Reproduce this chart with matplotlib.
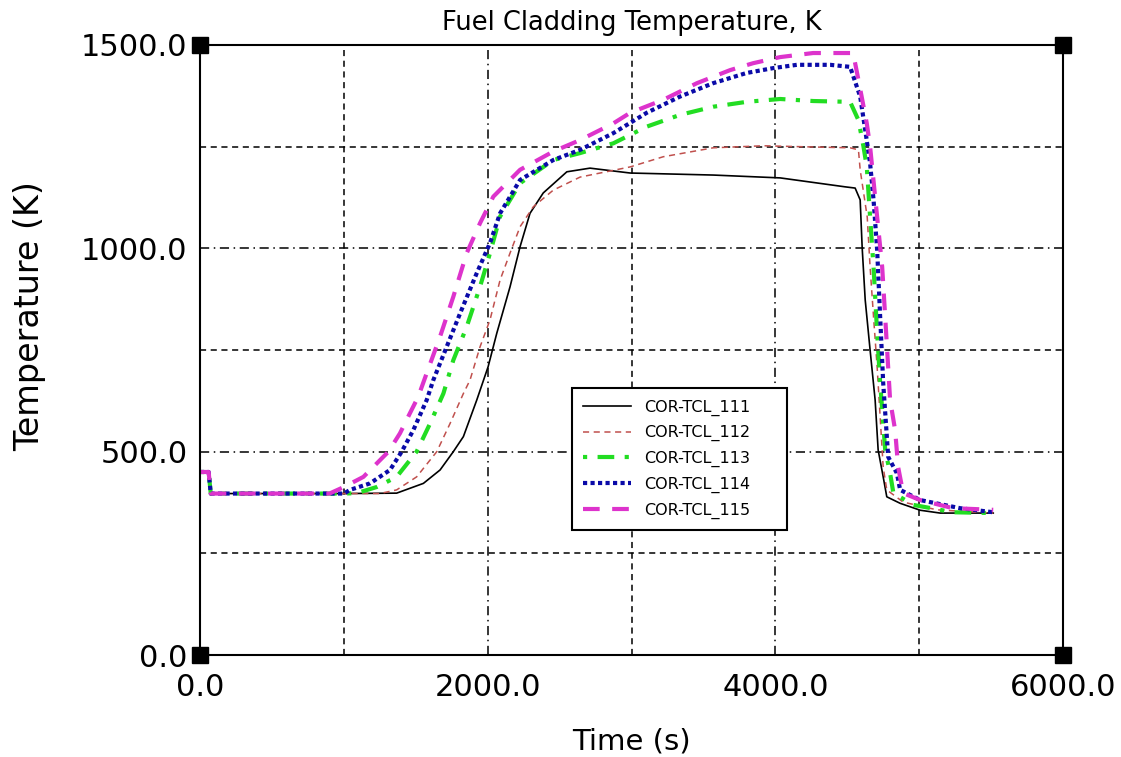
import matplotlib
matplotlib.use("Agg")
import matplotlib.pyplot as plt
from matplotlib.ticker import MultipleLocator, FormatStrFormatter

# COR-TCL_111
t_111 = [0, 60, 75, 1000, 1367, 1553, 1669, 1761, 1831, 1924, 2003, 2063, 2155, 2225, 2294,
         2386, 2550, 2711, 2990, 3568, 4033, 4485, 4554, 4589, 4603, 4624, 4658, 4693, 4714,
         4749, 4774, 4867, 5006, 5145, 5514]
T_111 = [450, 450, 397, 397, 398, 422, 455, 500, 537, 627, 709, 791, 905, 1004, 1086,
         1136, 1188, 1197, 1185, 1180, 1173, 1151, 1148, 1119, 1001, 873, 750, 627, 504,
         438, 389, 373, 356, 349, 349]

# COR-TCL_112
t_112 = [0, 60, 75, 1250, 1367, 1506, 1646, 1738, 1831, 1877, 1947, 2016, 2086, 2155, 2225,
         2317, 2456, 2642, 2990, 3220, 3568, 3915, 4262, 4519, 4577, 4589, 4638, 4658, 4682,
         4707, 4728, 4749, 4774, 4888, 5122, 5514]
T_112 = [450, 450, 397, 397, 406, 438, 500, 569, 643, 676, 758, 824, 922, 988, 1053,
         1102, 1143, 1175, 1200, 1225, 1247, 1252, 1249, 1247, 1242, 1193, 1077, 954, 831,
         708, 585, 462, 406, 376, 357, 349]

# COR-TCL_113
t_113 = [0, 60, 75, 1000, 1089, 1228, 1367, 1506, 1599, 1692, 1761, 1854, 1947, 2016, 2086,
         2225, 2456, 2642, 2873, 3105, 3337, 3568, 3800, 4033, 4262, 4519, 4577, 4612, 4635,
         4658, 4682, 4707, 4728, 4763, 4797, 4820, 4960, 5235, 5514]
T_113 = [450, 450, 397, 397, 398, 413, 438, 500, 569, 643, 725, 807, 906, 988, 1078,
         1160, 1217, 1234, 1258, 1299, 1328, 1348, 1360, 1367, 1362, 1360, 1315, 1250, 1200,
         1077, 954, 792, 669, 504, 447, 398, 369, 351, 349]

# COR-TCL_114
t_114 = [0, 60, 75, 1000, 1043, 1182, 1321, 1402, 1483, 1576, 1622, 1715, 1808, 1924, 2016,
         2086, 2225, 2456, 2642, 2873, 3105, 3337, 3568, 3800, 3986, 4149, 4380, 4519, 4589,
         4624, 4658, 4682, 4707, 4728, 4749, 4784, 4844, 4867, 5006, 5284, 5514]
T_114 = [450, 450, 397, 397, 406, 422, 455, 500, 553, 627, 676, 758, 840, 939, 1013,
         1086, 1168, 1217, 1242, 1283, 1333, 1373, 1406, 1431, 1443, 1451, 1451, 1446, 1373,
         1291, 1209, 1119, 996, 831, 669, 487, 447, 406, 381, 361, 351]

# COR-TCL_115
t_115 = [0, 60, 75, 900, 1000, 1136, 1310, 1390, 1460, 1517, 1576, 1669, 1761, 1854, 1947,
         2039, 2225, 2456, 2642, 2873, 2990, 3220, 3455, 3685, 3845, 4033, 4262, 4540, 4577,
         4635, 4658, 4707, 4742, 4763, 4797, 4832, 4853, 4888, 5006, 5235, 5514]
T_115 = [450, 450, 397, 397, 413, 438, 500, 545, 595, 635, 693, 783, 881, 988, 1062,
         1127, 1193, 1238, 1266, 1307, 1333, 1365, 1406, 1438, 1455, 1470, 1480, 1480, 1414,
         1307, 1250, 1077, 954, 831, 627, 553, 462, 398, 381, 361, 357]

series = [
    ("COR-TCL_111", t_111, T_111, dict(color="black", lw=1.2, ls="-")),
    ("COR-TCL_112", t_112, T_112, dict(color="#c0504d", lw=1.1, ls=(0, (4, 3)))),
    ("COR-TCL_113", t_113, T_113, dict(color="#22dd22", lw=3.0, ls=(0, (1, 2.5, 4, 2.5)))),
    ("COR-TCL_114", t_114, T_114, dict(color="#0a0aa8", lw=3.0, ls=(0, (1, 0.8)))),
    ("COR-TCL_115", t_115, T_115, dict(color="#dd33cc", lw=3.0, ls=(0, (4, 3)))),
]

fig = plt.figure(figsize=(11.21, 7.57), dpi=100)
ax = fig.add_axes([0.1784, 0.1347, 0.77, 0.806])

for name, t, T, style in series:
    ax.plot(t, T, label=name, **style)

ax.set_xlim(0, 6000)
ax.set_ylim(0, 1500)
ax.xaxis.set_major_locator(MultipleLocator(2000))
ax.xaxis.set_minor_locator(MultipleLocator(1000))
ax.yaxis.set_major_locator(MultipleLocator(500))
ax.yaxis.set_minor_locator(MultipleLocator(250))
ax.xaxis.set_major_formatter(FormatStrFormatter("%.1f"))
ax.yaxis.set_major_formatter(FormatStrFormatter("%.1f"))
ax.tick_params(which="both", length=0, labelsize=22)
ax.tick_params(axis="x", pad=13)
ax.tick_params(axis="y", pad=9)
ax.grid(which="major", color="black", lw=1.1, ls=(0, (6, 3, 1, 3)))
ax.grid(which="minor", color="black", lw=1.1, ls=(0, (4, 3)))
for sp in ax.spines.values():
    sp.set_linewidth(1.5)

# corner squares
ax.plot([0, 6000, 0, 6000], [0, 0, 1500, 1500], ls="none", marker="s", ms=11,
        color="black", clip_on=False, zorder=5)

ax.set_title("Fuel Cladding Temperature, K", fontsize=18.5, pad=11)
ax.set_xlabel("Time (s)", fontsize=21, labelpad=18)
ax.set_ylabel("Temperature (K)", fontsize=24)
ax.yaxis.set_label_coords(-0.178, 0.555)

leg = ax.legend(loc="lower left", bbox_to_anchor=(0.431, 0.205, 0.249, 0.225),
                mode="expand", fontsize=11.5, fancybox=False, edgecolor="black",
                framealpha=1, handlelength=3.0, borderpad=0.7, labelspacing=0.6,
                borderaxespad=0)
leg.get_frame().set_linewidth(1.5)

fig.savefig("out.png", dpi=100)
